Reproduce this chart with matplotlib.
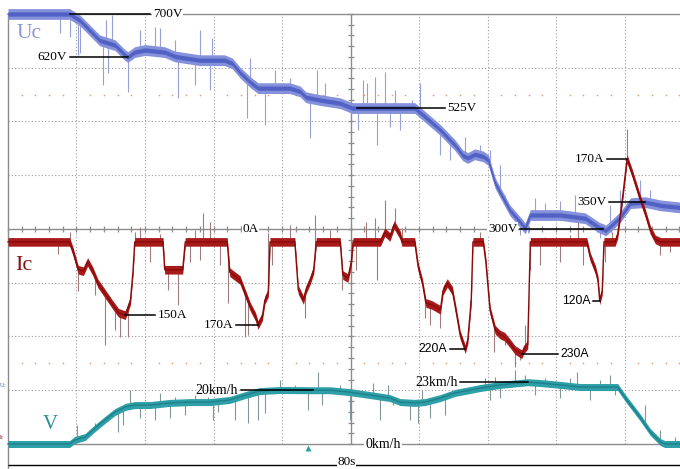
import numpy as np
import matplotlib.pyplot as plt

# scope screen: 10 x 8 divisions, 8 s per horizontal division
T_DIV = 8.0
UC_PER_DIV, UC_ZERO = 100.0, -3.0      # V/div, zero level in div
IC_PER_DIV, IC_ZERO = 110.0, -0.24     # A/div
V_PER_DIV, V_ZERO = 20.0, -4.0         # km/h/div

# capacitor voltage Uc [V]
uc_t = [0, 7.2, 8.4, 10.7, 12.5, 13.7, 14.0, 14.8, 16.0, 18.3, 19.5, 22.4, 25.3, 26.2, 27.1, 28.3,
        29.2, 32.9, 34.1, 34.8, 36.4, 38.8, 40.2, 47.5, 48.4, 50.5, 52.2, 53.1, 53.7, 54.5, 55.5,
        56.1, 56.9, 58.6, 59.8, 60.4, 61.0, 64.5, 67.4, 69.1, 69.5, 69.8, 70.5, 71.5, 72.7, 74.4,
        76.2, 78.5]
uc_v = [700, 700, 688, 651, 642, 623, 620, 629, 633, 629, 621, 614, 614, 608, 591, 573,
        562, 562, 556, 545, 540, 534, 525, 525, 513, 484, 456, 437, 432, 439, 435,
        428, 385, 335, 313, 301, 326, 326, 320, 302, 300, 297, 307, 322, 348, 350,
        344, 340]

# capacitor current Ic [A]
ic_t = [0, 7.2, 7.6, 8.2, 8.8, 9.3, 9.9, 10.5, 11.3, 12.2, 12.9, 13.7, 14.3, 14.6, 14.8, 18.1,
        18.3, 20.4, 20.7, 25.6, 25.9, 27.1, 28.3, 28.9, 29.2, 29.7, 30.0, 30.4, 30.6, 33.5, 33.9,
        34.5, 34.8, 35.3, 35.7, 36.0, 38.8, 39.1, 39.7, 40.1, 40.3, 43.5, 44.0, 44.6, 45.1, 45.8,
        46.0, 47.5, 47.9, 48.4, 48.8, 49.5, 50.5, 50.8, 51.3, 51.9, 52.4, 52.8, 53.4, 53.7, 54.1,
        54.3, 55.5, 55.8, 56.3, 56.9, 57.5, 58.0, 58.6, 59.2, 60.0, 60.2, 60.7, 61.0, 67.6, 68.0,
        68.6, 68.9, 69.1, 69.4, 69.6, 70.9, 71.2, 71.7, 72.3, 72.9, 73.8, 74.4, 75.0, 75.6, 76.2,
        78.5]
ic_a = [0, 0, -20, -57, -60, -41, -60, -85, -105, -128, -145, -150, -120, -60, 0, 0,
        -57, -57, 0, 0, -62, -78, -133, -153, -170, -153, -119, -104, 0, 0, -98,
        -119, -98, -78, -57, 0, 0, -68, -74, -40, 0, 0, 20, 10, 35, 14,
        0, 0, -51, -84, -125, -129, -139, -100, -84, -100, -149, -190, -220, -200, -119,
        0, 0, -40, -140, -180, -190, -194, -207, -221, -230, -221, -210, 0, 0, -31,
        -57, -78, -120, -100, 0, 0, 15, 80, 170, 140, 90, 60, 25, 5, 0,
        0]

# vehicle speed V [km/h]
v_t = [0, 7.2, 7.8, 9.0, 10.2, 11.3, 12.5, 13.7, 14.8, 16.6, 18.9, 21.3, 23.6, 25.9, 27.7, 29.4,
       31.8, 35.6, 37.6, 39.9, 42.3, 44.6, 45.8, 47.5, 48.7, 50.5, 52.2, 54.0, 55.1, 57.5, 60.7,
       62.1, 64.5, 66.8, 69.1, 71.2, 72.1, 73.8, 75.0, 76.2, 76.7, 78.5]
v_kmh = [0, 0, 1.5, 2.6, 6.0, 8.9, 11.9, 13.8, 14.5, 14.5, 15.3, 15.6, 15.6, 16.4, 18.2, 19.7,
         20.1, 20.0, 20.0, 19.3, 18.2, 17.1, 15.6, 15.3, 15.6, 17.1, 19.0, 20.1, 20.8, 22.0, 23.0,
         22.7, 22.0, 21.2, 21.2, 21.2, 17.1, 10.0, 4.5, 0.7, 0, 0]

# noise spikes: time and tip value
uc_spk_t = [6.1, 7.2, 8.2, 8.4, 11.1, 11.5, 11.7, 12.2, 14.0, 15.4, 17.2, 17.8, 19.5, 19.9, 21.8,
            22.4, 23.6, 23.8, 27.9, 28.3, 30.0, 31.2, 32.9, 35.3, 36.1, 37.0, 40.9, 41.5, 41.9,
            42.9, 43.1, 44.0, 44.6, 45.2, 45.8, 47.2, 48.1, 50.5, 51.6, 53.4, 55.1, 56.3, 57.5,
            58.0, 59.8, 60.7, 61.6, 62.7, 64.5, 66.2, 66.6, 69.1, 70.3, 71.5, 73.8, 75.0]
uc_spk_v = [664, 657, 623, 627, 567, 688, 590, 698, 554, 670, 675, 673, 651, 543, 567,
            670, 558, 655, 506, 618, 493, 595, 580, 469, 595, 571, 484, 577, 571,
            582, 456, 592, 489, 558, 484, 540, 571, 437, 428, 471, 456, 447, 419,
            363, 288, 292, 357, 348, 353, 363, 279, 283, 344, 372, 391, 372]
ic_spk_t = [5.8, 7.2, 8.2, 10.2, 11.3, 12.5, 13.1, 14.0, 14.8, 15.4, 16.6, 17.8, 18.7, 19.9, 21.3,
            21.8, 22.4, 22.8, 23.6, 24.8, 25.7, 27.7, 28.0, 30.4, 30.8, 32.9, 34.7, 35.9, 37.6,
            39.0, 40.6, 41.8, 42.9, 43.1, 44.0, 45.2, 46.0, 48.7, 49.3, 50.5, 54.0, 55.1, 56.7,
            58.0, 59.2, 59.8, 60.4, 61.0, 62.1, 62.7, 64.5, 65.6, 66.6, 67.2, 69.7, 70.5, 72.3,
            76.2, 77.3]
ic_spk_a = [-25, 20, -100, -108, -211, -180, -194, -194, 20, 31, -41, 16, -98, -129, -41,
            25, -37, 59, 41, -47, -125, -194, -190, 18, -47, 35, -156, 55, 25,
            -98, -57, 41, 49, -78, 86, 70, 29, -156, -170, -176, -119, 20, -225,
            -211, -256, -241, -170, -57, -47, 10, -41, 14, 41, -47, -41, 20, 230,
            -27, -20]
v_spk_t = [8.1, 10.2, 12.9, 13.4, 14.3, 15.4, 17.2, 17.8, 18.9, 19.5, 20.7, 21.8, 23.4, 23.9, 24.5,
           26.5, 28.0, 29.2, 30.0, 31.8, 33.5, 35.0, 36.2, 36.7, 38.8, 39.9, 42.6, 43.5, 44.4,
           45.0, 47.0, 47.9, 48.4, 49.3, 51.0, 55.7, 56.3, 56.9, 57.5, 59.2, 60.4, 61.6, 62.7,
           64.5, 65.6, 66.5, 68.0, 69.1, 70.3, 70.9, 74.4, 76.2, 77.9]
v_spk_kmh = [7.1, 7.8, 4.5, 7.1, 20.1, 9.7, 8.9, 19.0, 9.7, 17.5, 10.8, 18.2, 17.5, 8.9, 11.9,
             8.9, 7.8, 8.9, 11.5, 23.8, 22.0, 12.7, 26.8, 14.5, 22.0, 8.9, 22.7, 8.9, 22.0,
             14.5, 8.9, 7.8, 20.1, 9.7, 10.8, 24.6, 16.4, 24.9, 17.1, 27.5, 25.7, 18.2, 24.6,
             17.1, 24.6, 26.8, 16.4, 23.8, 25.7, 18.2, 14.5, 5.2, 2.6]


def uc_div(v):
    return np.asarray(v, dtype=float) / UC_PER_DIV + UC_ZERO


def ic_div(a):
    return np.asarray(a, dtype=float) / IC_PER_DIV + IC_ZERO


def v_div(s):
    return np.asarray(s, dtype=float) / V_PER_DIV + V_ZERO


fig = plt.figure(figsize=(6.8, 4.69), dpi=100)
ax = fig.add_axes([0, 0, 1, 1])
ax.set_xlim(-0.934, 78.48)
ax.set_ylim(-4.465, 4.26)
ax.axis('off')

T_END = 10 * T_DIV
GRID = '#9a9a9a'

# graticule
for k in range(1, 10):
    if k != 5:
        ax.vlines(k * T_DIV, -4, 4, color=GRID, lw=0.8, ls=(0, (1, 2)), zorder=1)
for k in (-3, -2, -1, 1, 2, 3):
    ax.hlines(k, 0, T_END, color=GRID, lw=0.8, ls=(0, (1, 2)), zorder=1)
ax.hlines([4, 0, -4], 0, T_END, color='#8c8c8c', lw=1.0, zorder=1)
ax.vlines(5 * T_DIV, -4, 4, color='#8c8c8c', lw=1.0, zorder=1)
ax.vlines(0, -4.465, 4, color='#8c8c8c', lw=1.0, zorder=1)

minor_x = np.arange(0, 10.01, 0.2) * T_DIV
minor_y = np.arange(-4, 4.01, 0.2)
ax.vlines(minor_x, -0.06, 0.06, color='#8c8c8c', lw=0.9, zorder=1)
ax.hlines(minor_y, 5 * T_DIV - 0.35, 5 * T_DIV + 0.35, color='#8c8c8c', lw=0.9, zorder=1)

dots = np.array([d for d in np.arange(0.2, 10, 0.2) if abs(d - round(d)) > 0.05]) * T_DIV
for lvl in (2.5, -2.5):
    ax.plot(dots, np.full(dots.size, lvl), ls='none', marker='o', ms=1.2,
            color='#e59a7a', mec='none', zorder=1)


def trace(t, y, h, band, core, spk_t, spk_y, spk_col, inner=None):
    t = np.asarray(t, dtype=float)
    base = np.interp(spk_t, t, y)
    ax.vlines(spk_t, base, spk_y, color=spk_col, lw=0.8, zorder=2)
    ax.fill_between(t, y - h, y + h, color=band, lw=0, zorder=3)
    if inner is not None:
        ax.fill_between(t, y - inner, y + inner, color=core, lw=0, zorder=3)
    ax.plot(t, y, color=core, lw=1.0, zorder=4)


trace(uc_t, uc_div(uc_v), 0.1, '#8591da', '#5162c4', uc_spk_t, uc_div(uc_spk_v), '#97a1d6',
      inner=0.04)
trace(ic_t, ic_div(ic_a), 0.08, '#a81a1a', '#8a0a0a', ic_spk_t, ic_div(ic_spk_a), '#a07c7c')
trace(v_t, v_div(v_kmh), 0.065, '#2f9fa7', '#1d808b', v_spk_t, v_div(v_spk_kmh), '#82969a')

SERIF = 'Liberation Serif'
SANS = 'Liberation Sans'


def tag(text, t_pt, y, t_end, family=SERIF, size=9.5, box=False):
    ax.plot([t_pt, t_end], [y, y], color='black', lw=1.1, zorder=5)
    right = t_end > t_pt
    kw = dict(bbox=dict(fc='white', ec='none', pad=0.5)) if box else {}
    ax.text(t_end + (0.3 if right else -0.3), y, text, ha='left' if right else 'right',
            va='center', fontsize=size, family=family, zorder=6, **kw)


tag('700V', 7.2, uc_div(700), 16.6, box=True)
tag('620V', 14.0, uc_div(620), 7.2)
tag('525V', 40.8, uc_div(525), 51.0)
tag('350V', 74.4, uc_div(350), 70.2)
tag('300V', 69.5, uc_div(300), 59.8, box=True)
tag('170A', 72.3, ic_div(170), 70.0)
tag('120A', 69.1, ic_div(-120), 68.3, family=SANS, size=8.8)
tag('150A', 13.7, ic_div(-150), 17.2)
tag('170A', 29.2, ic_div(-170), 26.6)
tag('220A', 53.4, ic_div(-220), 51.6, family=SANS, size=8.8)
tag('230A', 60.0, ic_div(-230), 64.2, family=SANS, size=8.8)
tag('20km/h', 35.6, v_div(20), 27.2, size=10)
tag('23km/h', 60.7, v_div(23), 52.8, size=10)

ax.text(28.3, 0, '0A', ha='center', va='center', fontsize=9.5, family=SERIF, zorder=6,
        bbox=dict(fc='white', ec='none', pad=0.5))
ax.text(43.8, v_div(0), '0km/h', ha='center', va='center', fontsize=10, family=SERIF, zorder=6,
        bbox=dict(fc='white', ec='none', pad=0.8))

# time span bar
ax.hlines(-4.39, 0, T_END, color='black', lw=1.0, zorder=5)
ax.text(39.5, -4.34, '80s', ha='center', va='center', fontsize=9.5, family=SERIF, zorder=6,
        bbox=dict(fc='white', ec='none', pad=0.2))

# trigger marker
ax.plot([35.0], [-4.07], marker='^', ms=4.5, color='#2f9fa7', mec='none', zorder=5)

# channel names
ax.text(1.0, 3.63, 'Uc', fontsize=15.5, family=SERIF, color='#8a96d6', va='center', zorder=6)
ax.text(0.9, -0.67, 'Ic', fontsize=16, family=SERIF, color='#8a1010', va='center', zorder=6)
ax.text(4.1, -3.64, 'V', fontsize=15, family=SERIF, color='#2a8f99', va='center', zorder=6)
ax.text(-0.9, -2.92, 'Uc', fontsize=4, family=SERIF, color='#4050c0', va='center', zorder=6)
ax.text(-0.9, -3.88, 'Ic', fontsize=4, family=SERIF, color='#8a1010', va='center', zorder=6)

fig.savefig('out.png', dpi=100)
